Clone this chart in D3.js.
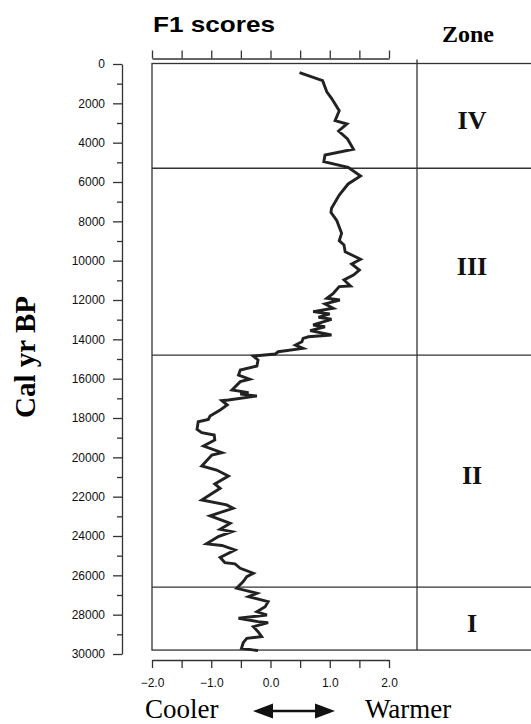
<!DOCTYPE html>
<html>
<head>
<meta charset="utf-8">
<script src="https://cdn.jsdelivr.net/npm/d3@7"></script>
<style>
  body { margin: 0; background: #fff; }
  svg { display: block; }
  .axis path, .axis line { stroke: #333; stroke-width: 1.3; }
  .axis text { font-family: "Liberation Sans", Arial, sans-serif; font-size: 12px; fill: #111; }
  .frame { fill: none; stroke: #333; stroke-width: 1.3; }
  .zone-label { font-family: "Liberation Serif", "Times New Roman", serif; font-weight: bold; font-size: 26px; fill: #111; }
</style>
</head>
<body>
<svg width="531" height="724"></svg>
<script>
// F1 scores down core (cal yr BP)
const ages = [440, 850, 1410, 1745, 2375, 2880, 3050, 3405, 3815, 4335, 4630, 4970, 5250, 5695, 6100, 6660, 7340,
  7540, 7970, 8610, 8985, 9200, 9545, 9930, 10170, 10475, 10730, 10980, 11290, 11320, 11660, 11910, 12000,
  12200, 12420, 12590, 12710, 12880, 12980, 13270, 13360, 13560, 13780, 13870, 13950, 14120, 14290, 14460,
  14630, 14745, 14850, 15050, 15355, 15560, 15815, 16030, 16150, 16575, 16710, 16780, 16880, 17085, 17120,
  17340, 17590, 17900, 18070, 18190, 18575, 18750, 18865, 19120, 19425, 19765, 19880, 20440, 20645, 20950,
  21355, 21575, 22170, 22420, 22590, 22980, 23355, 23660, 23780, 24030, 24400, 24480, 24710, 25085, 25355,
  25420, 25640, 25895, 26070, 26320, 26660, 26915, 27085, 27340, 27595, 27850, 28020, 28185, 28355, 28405,
  28610, 28865, 29120, 29200, 29425, 29710, 29830];
const f1 = [0.49, 0.88, 0.95, 1.03, 1.16, 1.09, 1.29, 1.15, 1.30, 1.40, 0.92, 0.90, 1.31, 1.52, 1.31, 1.16, 1.03,
  1.02, 1.12, 1.20, 1.16, 1.24, 1.26, 1.52, 1.37, 1.50, 1.40, 1.24, 1.35, 1.16, 1.06, 0.95, 1.17,
  0.92, 1.06, 0.72, 1.00, 0.81, 1.03, 0.72, 0.92, 0.67, 1.03, 0.64, 0.55, 0.53, 0.42, 0.55,
  0.13, 0.08, -0.29, -0.21, -0.23, -0.51, -0.54, -0.35, -0.51, -0.65, -0.37, -0.51, -0.23, -0.71, -0.82,
  -0.73, -0.85, -1.02, -1.05, -1.22, -1.24, -1.16, -0.95, -0.94, -1.13, -0.82, -0.99, -1.16, -0.91, -0.71,
  -0.94, -0.85, -1.16, -0.74, -0.63, -1.02, -0.68, -0.85, -0.65, -0.88, -1.08, -0.82, -0.60, -0.85, -0.77,
  -0.60, -0.51, -0.29, -0.40, -0.46, -0.57, -0.23, -0.37, -0.04, -0.09, -0.23, -0.06, -0.54, -0.21, -0.04,
  -0.29, -0.21, -0.15, -0.40, -0.46, -0.49, -0.21];

const zoneBounds = [0, 5300, 14800, 26600, 29800];
const zoneNames = ["IV", "III", "II", "I"];
const yMajor = d3.range(0, 30001, 2000);
const yMinor = d3.range(1000, 30000, 2000);
const xTicks = [-2, -1.5, -1, -0.5, 0, 0.5, 1, 1.5, 2];

const svg = d3.select("svg");

const x = d3.scaleLinear().domain([-2, 2]).range([152, 389]);
const y = d3.scaleLinear().domain([0, 30000]).range([64, 654]);

const boxLeft = 152, boxRight = 540, zoneX = 417;
const boxTop = y(0) - 0.5, boxBottom = y(zoneBounds[4]);

// left depth axis
svg.append("g").attr("class", "axis")
    .attr("transform", "translate(122,0)")
    .call(d3.axisLeft(y).tickValues(yMajor).tickSize(9).tickPadding(8).tickSizeOuter(0).tickFormat(d3.format("d")));
svg.append("g").attr("class", "axis")
    .attr("transform", "translate(122,0)")
    .call(d3.axisLeft(y).tickValues(yMinor).tickSize(5).tickSizeOuter(0).tickFormat(""))
    .select(".domain").remove();

// top axis (no labels)
svg.append("g").attr("class", "axis")
    .attr("transform", "translate(0,58.5)")
    .call(d3.axisTop(x).tickValues(xTicks).tickSize(8).tickSizeOuter(0).tickFormat(""));

// bottom axis
svg.append("g").attr("class", "axis")
    .attr("transform", "translate(0,660)")
    .call(d3.axisBottom(x).tickValues(xTicks).tickSize(8).tickPadding(10).tickSizeOuter(0)
      .tickFormat(d => Number.isInteger(d) ? d3.format(".1f")(d) : ""));

// frame
svg.append("rect").attr("class", "frame")
    .attr("x", boxLeft).attr("y", boxTop)
    .attr("width", boxRight - boxLeft).attr("height", boxBottom - boxTop);
svg.append("line").attr("class", "frame")
    .attr("x1", zoneX).attr("x2", zoneX).attr("y1", boxTop - 4).attr("y2", boxBottom);

// zone boundaries
svg.selectAll(".zline")
    .data(zoneBounds.slice(1, 4))
  .enter().append("line")
    .attr("class", "frame")
    .attr("x1", boxLeft).attr("x2", boxRight)
    .attr("y1", d => y(d)).attr("y2", d => y(d));

// zone labels
svg.selectAll(".zone-label")
    .data(zoneNames)
  .enter().append("text")
    .attr("class", "zone-label")
    .attr("x", 472)
    .attr("y", (d, i) => (y(zoneBounds[i]) + y(zoneBounds[i + 1])) / 2 + 13)
    .attr("text-anchor", "middle")
    .text(d => d);

// curve
const line = d3.line()
    .x(i => x(f1[i]))
    .y(i => y(ages[i]));
svg.append("path")
    .attr("d", line(d3.range(ages.length)))
    .attr("fill", "none")
    .attr("stroke", "#222")
    .attr("stroke-width", 2.9)
    .attr("stroke-linejoin", "miter");

// titles
svg.append("text")
    .attr("x", 153).attr("y", 32)
    .attr("font-family", "Liberation Sans, Arial, sans-serif")
    .attr("font-weight", "bold").attr("font-size", 22)
    .attr("textLength", 122).attr("lengthAdjust", "spacingAndGlyphs")
    .text("F1 scores");
svg.append("text")
    .attr("x", 468).attr("y", 42)
    .attr("text-anchor", "middle")
    .attr("font-family", "Liberation Serif, Times New Roman, serif")
    .attr("font-weight", "bold").attr("font-size", 24)
    .text("Zone");
svg.append("text")
    .attr("transform", "translate(35,357) rotate(-90)")
    .attr("text-anchor", "middle")
    .attr("font-family", "Liberation Serif, Times New Roman, serif")
    .attr("font-weight", "bold").attr("font-size", 29)
    .text("Cal yr BP");

// cooler / warmer
svg.append("text")
    .attr("x", 145).attr("y", 718)
    .attr("font-family", "Liberation Serif, Times New Roman, serif")
    .attr("font-size", 27)
    .text("Cooler");
svg.append("text")
    .attr("x", 365).attr("y", 718)
    .attr("font-family", "Liberation Serif, Times New Roman, serif")
    .attr("font-size", 27)
    .text("Warmer");

const ay = 711, ax1 = 253, ax2 = 335, head = 20, hw = 7.5;
svg.append("line")
    .attr("x1", ax1 + head - 2).attr("x2", ax2 - head + 2)
    .attr("y1", ay).attr("y2", ay)
    .attr("stroke", "#111").attr("stroke-width", 2.5);
svg.append("path")
    .attr("d", `M${ax1},${ay}L${ax1 + head},${ay - hw}L${ax1 + head},${ay + hw}Z`)
    .attr("fill", "#111");
svg.append("path")
    .attr("d", `M${ax2},${ay}L${ax2 - head},${ay - hw}L${ax2 - head},${ay + hw}Z`)
    .attr("fill", "#111");
</script>
</body>
</html>
